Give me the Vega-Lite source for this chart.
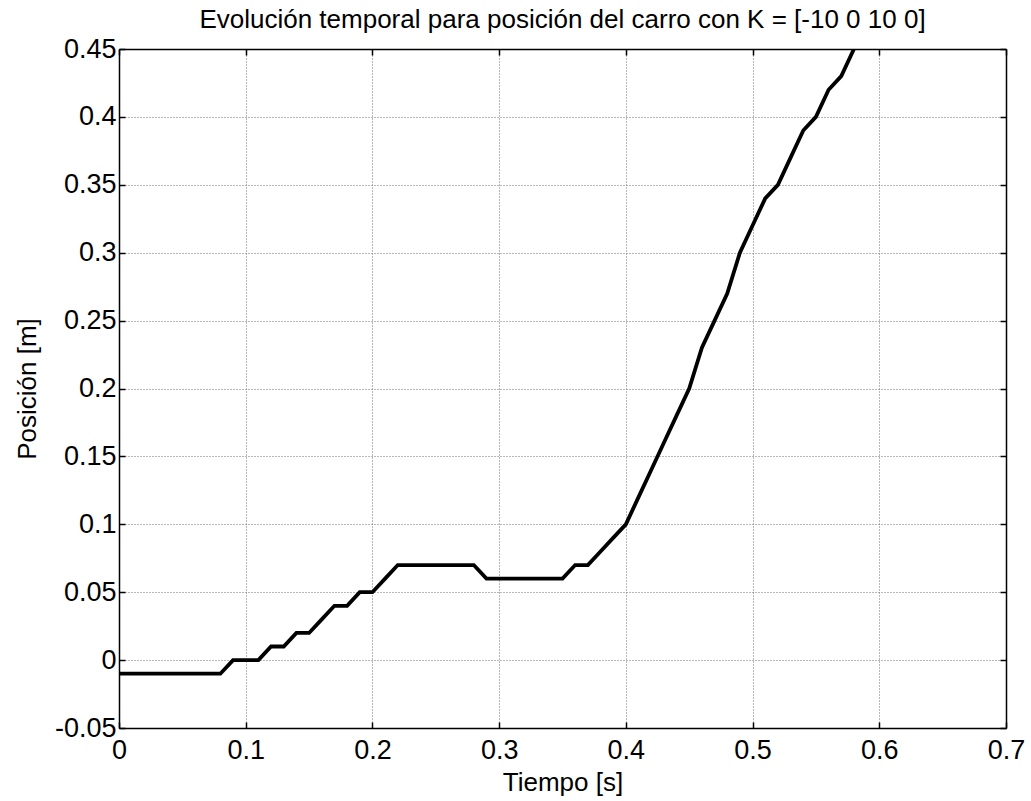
{
  "$schema": "https://vega.github.io/schema/vega-lite/v6.json",
  "width": 887,
  "height": 679,
  "autosize": "none",
  "padding": {"left": 119, "top": 49, "right": 25, "bottom": 73},
  "background": "white",
  "title": {
    "text": "Evolución temporal para posición del carro con K = [-10 0 10 0]",
    "font": "Liberation Sans",
    "fontSize": 26,
    "fontWeight": "normal",
    "color": "black",
    "anchor": "middle",
    "offset": 2
  },
  "config": {
    "view": {"stroke": null},
    "axis": {
      "labelFont": "Liberation Sans",
      "titleFont": "Liberation Sans",
      "labelFontSize": 27,
      "titleFontSize": 26,
      "titleFontWeight": "normal",
      "labelColor": "black",
      "titleColor": "black",
      "domainColor": "black",
      "domainWidth": 1.5,
      "tickColor": "black",
      "tickWidth": 1.5,
      "tickSize": -6,
      "gridColor": "#707070",
      "gridDash": [1, 2],
      "gridWidth": 1,
      "gridOpacity": 1
    }
  },
  "data": {
    "values": [
      {"t": 0.00, "pos": -0.01},
      {"t": 0.01, "pos": -0.01},
      {"t": 0.02, "pos": -0.01},
      {"t": 0.03, "pos": -0.01},
      {"t": 0.04, "pos": -0.01},
      {"t": 0.05, "pos": -0.01},
      {"t": 0.06, "pos": -0.01},
      {"t": 0.07, "pos": -0.01},
      {"t": 0.08, "pos": -0.01},
      {"t": 0.09, "pos": 0.00},
      {"t": 0.10, "pos": 0.00},
      {"t": 0.11, "pos": 0.00},
      {"t": 0.12, "pos": 0.01},
      {"t": 0.13, "pos": 0.01},
      {"t": 0.14, "pos": 0.02},
      {"t": 0.15, "pos": 0.02},
      {"t": 0.16, "pos": 0.03},
      {"t": 0.17, "pos": 0.04},
      {"t": 0.18, "pos": 0.04},
      {"t": 0.19, "pos": 0.05},
      {"t": 0.20, "pos": 0.05},
      {"t": 0.21, "pos": 0.06},
      {"t": 0.22, "pos": 0.07},
      {"t": 0.23, "pos": 0.07},
      {"t": 0.24, "pos": 0.07},
      {"t": 0.25, "pos": 0.07},
      {"t": 0.26, "pos": 0.07},
      {"t": 0.27, "pos": 0.07},
      {"t": 0.28, "pos": 0.07},
      {"t": 0.29, "pos": 0.06},
      {"t": 0.30, "pos": 0.06},
      {"t": 0.31, "pos": 0.06},
      {"t": 0.32, "pos": 0.06},
      {"t": 0.33, "pos": 0.06},
      {"t": 0.34, "pos": 0.06},
      {"t": 0.35, "pos": 0.06},
      {"t": 0.36, "pos": 0.07},
      {"t": 0.37, "pos": 0.07},
      {"t": 0.38, "pos": 0.08},
      {"t": 0.39, "pos": 0.09},
      {"t": 0.40, "pos": 0.10},
      {"t": 0.41, "pos": 0.12},
      {"t": 0.42, "pos": 0.14},
      {"t": 0.43, "pos": 0.16},
      {"t": 0.44, "pos": 0.18},
      {"t": 0.45, "pos": 0.20},
      {"t": 0.46, "pos": 0.23},
      {"t": 0.47, "pos": 0.25},
      {"t": 0.48, "pos": 0.27},
      {"t": 0.49, "pos": 0.30},
      {"t": 0.50, "pos": 0.32},
      {"t": 0.51, "pos": 0.34},
      {"t": 0.52, "pos": 0.35},
      {"t": 0.53, "pos": 0.37},
      {"t": 0.54, "pos": 0.39},
      {"t": 0.55, "pos": 0.40},
      {"t": 0.56, "pos": 0.42},
      {"t": 0.57, "pos": 0.43},
      {"t": 0.58, "pos": 0.45}
    ]
  },
  "layer": [
    {
      "mark": {"type": "line", "color": "black", "strokeWidth": 3.8, "clip": true, "strokeJoin": "miter"},
      "encoding": {
        "x": {
          "field": "t",
          "type": "quantitative",
          "scale": {"domain": [0, 0.7], "nice": false, "zero": false},
          "axis": {
            "orient": "bottom",
            "title": "Tiempo [s]",
            "values": [0, 0.1, 0.2, 0.3, 0.4, 0.5, 0.6, 0.7],
            "format": ".1~f",
            "grid": true,
            "labelPadding": 15,
            "titlePadding": 6,
            "labelFlush": false,
            "labelOverlap": false
          }
        },
        "y": {
          "field": "pos",
          "type": "quantitative",
          "scale": {"domain": [-0.05, 0.45], "nice": false, "zero": false},
          "axis": {
            "orient": "left",
            "title": "Posición [m]",
            "values": [-0.05, 0, 0.05, 0.1, 0.15, 0.2, 0.25, 0.3, 0.35, 0.4, 0.45],
            "labelExpr": "replace(format(datum.value, '.2~f'), '\u2212', '-')",
            "grid": true,
            "labelPadding": 9,
            "titlePadding": 14,
            "labelFlush": false,
            "labelOverlap": false
          }
        }
      }
    },
    {
      "mark": {"type": "line", "opacity": 0},
      "encoding": {
        "x": {
          "field": "t",
          "type": "quantitative",
          "axis": {
            "orient": "top",
            "title": null,
            "labels": false,
            "grid": false,
            "values": [0, 0.1, 0.2, 0.3, 0.4, 0.5, 0.6, 0.7]
          }
        },
        "y": {
          "field": "pos",
          "type": "quantitative",
          "axis": {
            "orient": "right",
            "title": null,
            "labels": false,
            "grid": false,
            "values": [-0.05, 0, 0.05, 0.1, 0.15, 0.2, 0.25, 0.3, 0.35, 0.4, 0.45]
          }
        }
      }
    }
  ],
  "resolve": {"axis": {"x": "independent", "y": "independent"}}
}
